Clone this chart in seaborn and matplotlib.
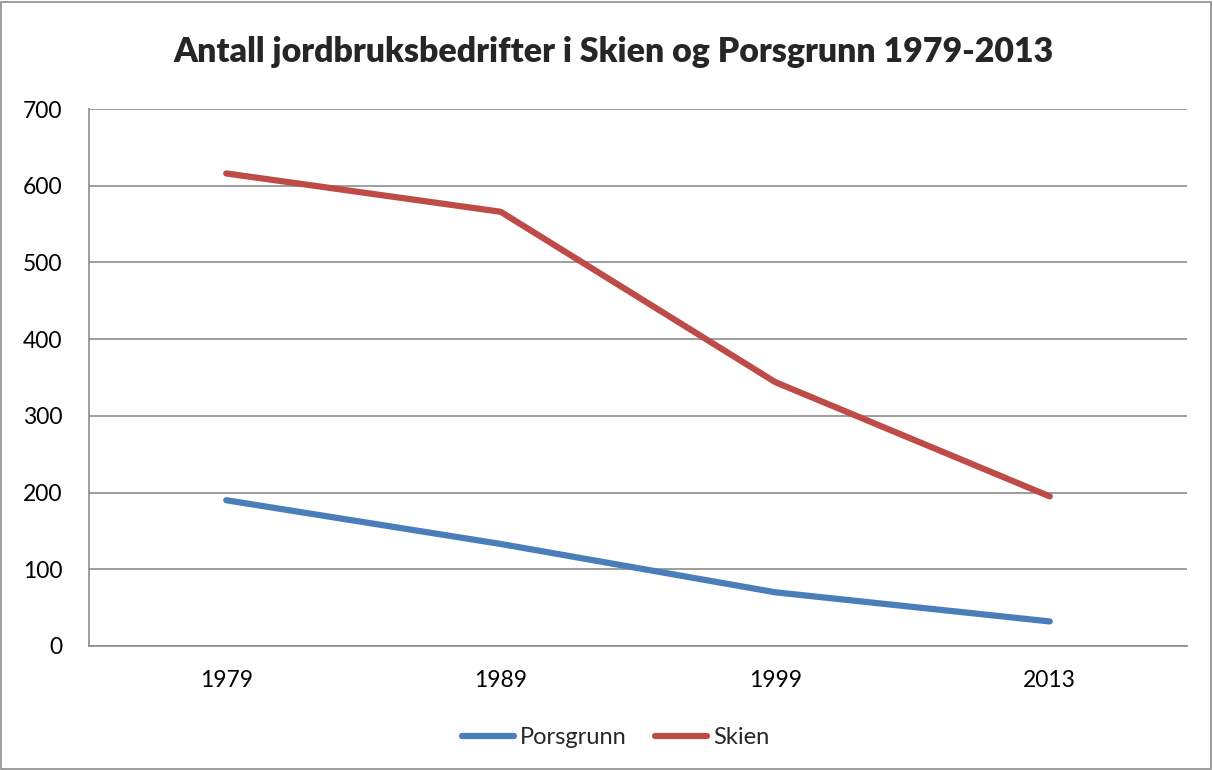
import pandas as pd
import numpy as np
import matplotlib.pyplot as plt
import seaborn as sns

years = ['1979', '1989', '1999', '2013']
porsgrunn = [190, 133, 70, 32]
skien = [616, 566, 344, 195]

df = pd.DataFrame({
    'year': years * 2,
    'antall': porsgrunn + skien,
    'kommune': ['Porsgrunn'] * 4 + ['Skien'] * 4,
})

sns.set_style('white')
plt.rcParams['font.family'] = ['Lato', 'DejaVu Sans']

fig = plt.figure(figsize=(12.13, 7.7), dpi=100)
ax = fig.add_axes([89 / 1213, 1 - 646 / 770, (1187 - 89) / 1213, (646 - 109) / 770])

sns.lineplot(data=df, x='year', y='antall', hue='kommune', sort=False,
             palette={'Porsgrunn': '#4a7ebb', 'Skien': '#be4b48'},
             linewidth=4.5, solid_capstyle='round', ax=ax)

ax.set_xlim(-0.5, 3.5)
ax.set_ylim(0, 700)
ax.set_yticks(range(0, 701, 100))
ax.yaxis.grid(True, color='#8c8c8c', linewidth=1.2)
ax.set_axisbelow(True)
for s in ['top', 'right']:
    ax.spines[s].set_visible(False)
for s in ['left', 'bottom']:
    ax.spines[s].set_color('#8c8c8c')
    ax.spines[s].set_linewidth(1.2)
ax.tick_params(length=0, labelsize=16.5, colors='black')
ax.tick_params(axis='x', pad=17)
ax.tick_params(axis='y', pad=19)
ax.set_xlabel('')
ax.set_ylabel('')

fig.text(0.506, 1 - 52 / 770, 'Antall jordbruksbedrifter i Skien og Porsgrunn 1979-2013',
         ha='center', va='center', fontsize=24.4, fontweight='heavy')

# legend centred under the plot, a bit left of the axes middle like the original
ax.legend(loc='center', bbox_to_anchor=((616 - 89) / 1098, (646 - 738) / (646 - 109)), ncol=2,
          frameon=False, fontsize=17, handlelength=2.2, handletextpad=0.25,
          columnspacing=1.2)

fig.patches.append(plt.Rectangle((0.001, 0.001), 0.997, 0.997, transform=fig.transFigure,
                                 fill=False, edgecolor='#8c8c8c', linewidth=1.2))

plt.savefig('out.png', dpi=100)
